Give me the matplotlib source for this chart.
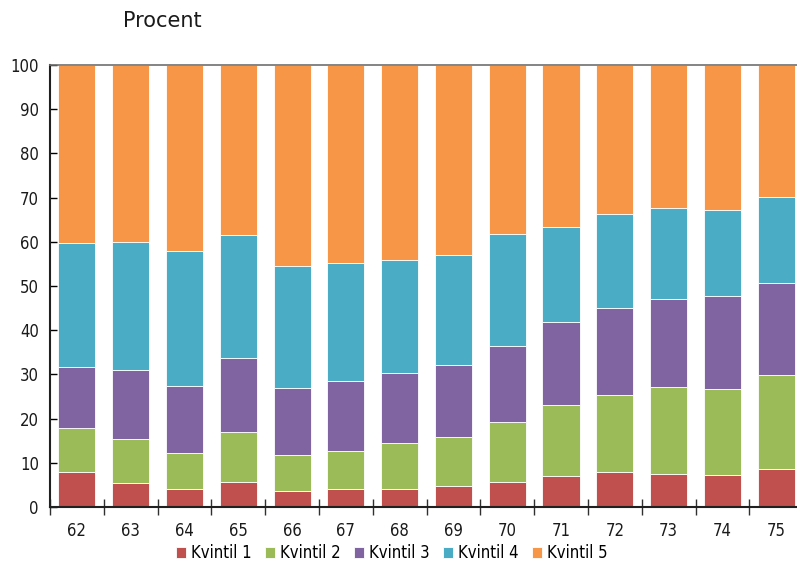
import numpy as np
import matplotlib
matplotlib.use('Agg')
import matplotlib.pyplot as plt

plt.rcParams['font.family'] = ['DejaVu Sans']
plt.rcParams['font.stretch'] = 'condensed'

years = ['62', '63', '64', '65', '66', '67', '68', '69', '70', '71', '72', '73', '74', '75']

# share of each quintile, in percent
kvintil1 = [8.0, 5.5, 4.1, 5.6, 3.7, 4.1, 4.1, 4.7, 5.7, 6.9, 8.0, 7.4, 7.3, 8.7]
kvintil2 = [9.8, 9.9, 8.1, 11.4, 8.1, 8.5, 10.3, 11.1, 13.5, 16.2, 17.3, 19.8, 19.3, 21.2]
kvintil3 = [13.9, 15.7, 15.2, 16.8, 15.1, 15.8, 15.8, 16.4, 17.3, 18.7, 19.7, 19.8, 21.2, 20.7]
kvintil4 = [28.1, 28.9, 30.6, 27.7, 27.7, 26.9, 25.6, 24.9, 25.3, 21.5, 21.2, 20.7, 19.5, 19.6]
kvintil5 = [40.2, 40.0, 42.0, 38.5, 45.4, 44.7, 44.2, 42.9, 38.2, 36.7, 33.8, 32.3, 32.7, 29.8]

series = [kvintil1, kvintil2, kvintil3, kvintil4, kvintil5]
labels = ['Kvintil 1', 'Kvintil 2', 'Kvintil 3', 'Kvintil 4', 'Kvintil 5']
colors = ['#C0504D', '#9BBB59', '#8064A2', '#4BACC6', '#F79646']

fig = plt.figure(figsize=(7.97, 5.62), dpi=100)
ax = fig.add_axes([0.0627, 0.0979, 0.945, 0.7865])

x = np.arange(len(years))
bottom = np.zeros(len(years))
for vals, lab, col in zip(series, labels, colors):
    ax.bar(x, vals, 0.69, bottom=bottom, color=col, label=lab,
           edgecolor='white', linewidth=0.6)
    bottom += np.array(vals)

ax.set_xlim(-0.5, len(years) - 0.5)
ax.set_ylim(0, 100)
ax.set_yticks(range(0, 101, 10))
ax.tick_params(axis='y', direction='in', length=5, width=1, labelsize=12, pad=8,
               labelcolor='#1a1a1a')

# year labels centred under bars, ticks on the bar boundaries
ax.set_xticks(x)
ax.set_xticklabels(years)
ax.tick_params(axis='x', which='major', length=0, labelsize=12, pad=11,
               labelcolor='#1a1a1a')
ax.set_xticks(np.arange(-0.5, len(years)), minor=True)
ax.tick_params(axis='x', which='minor', direction='inout', length=11, width=1,
               color='#303030')

for s in ['top', 'right']:
    ax.spines[s].set_color('#707070')
    ax.spines[s].set_linewidth(1.2)
for s in ['left', 'bottom']:
    ax.spines[s].set_color('#202020')
    ax.spines[s].set_linewidth(1.5)

fig.text(0.154, 0.962, 'Procent', fontsize=15, va='center', ha='left', color='#1a1a1a',
         stretch='normal')

ax.legend(loc='center', bbox_to_anchor=(0.454, -0.105), ncol=5, frameon=False,
          fontsize=12, handlelength=0.6, handleheight=0.6, handletextpad=0.3,
          columnspacing=0.8)

fig.savefig('out.png', dpi=100)
